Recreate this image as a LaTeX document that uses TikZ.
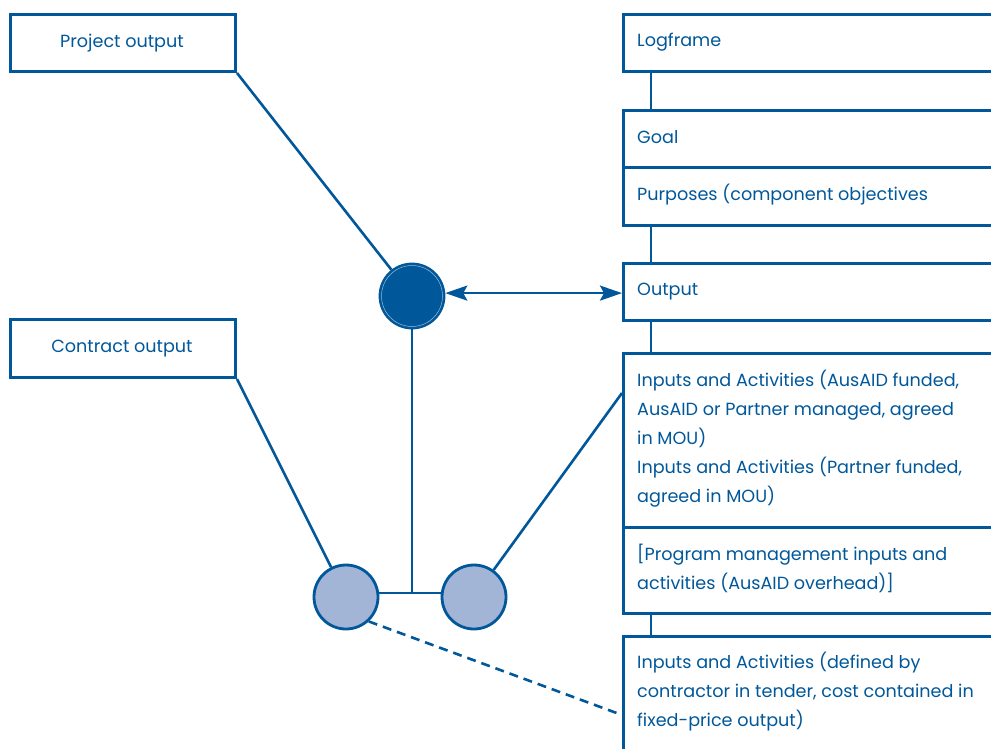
\documentclass[tikz,border=0pt]{standalone}
\usepackage{fontspec}
\setmainfont{Poppins}
\usetikzlibrary{arrows.meta}
\definecolor{dblue}{HTML}{00589A}
\definecolor{lblue}{HTML}{A3B5D7}
\tikzset{
  box/.style={draw=dblue, line width=3pt, rectangle, inner sep=0pt, anchor=north west},
  txt/.style={text=dblue, anchor=base west, inner sep=0pt, font=\fontsize{17.6}{29}\selectfont, align=left},
  ctxt/.style={text=dblue, anchor=base, inner sep=0pt, font=\fontsize{17.6}{29}\selectfont},
  conn/.style={draw=dblue, line width=2.6pt},
  dot/.style={circle, draw=dblue, line width=2.8pt, minimum size=64pt, inner sep=0pt},
}
\begin{document}
\begin{tikzpicture}[x=1pt,y=-1pt]
\clip (0,0) rectangle (991,748);
\fill[white] (0,0) rectangle (991,748);
% left boxes
\node[box, minimum width=225pt, minimum height=57pt] (po) at (9,13) {};
\node[ctxt] at (122,47) {Project output};
\node[box, minimum width=225pt, minimum height=58pt] (co) at (9,318) {};
\node[ctxt] at (122,352) {Contract output};
% right boxes
\node[box, minimum width=380pt, minimum height=57pt] (lf) at (622,13) {};
\node[txt] at (637,46) {Logframe};
\node[box, minimum width=380pt, minimum height=57pt] (goal) at (622,109) {};
\node[txt] at (637,143) {Goal};
\node[box, minimum width=380pt, minimum height=58pt] (purp) at (622,166) {};
\node[txt] at (637,200) {Purposes (component objectives};
\node[box, minimum width=380pt, minimum height=57pt] (out) at (622,262) {};
\node[txt] at (637,295) {Output};
\node[box, minimum width=380pt, minimum height=174pt] (inp) at (622,352) {};
\node[txt] at (637,502) {Inputs and Activities (AusAID funded,\\AusAID or Partner managed, agreed\\in MOU)\\Inputs and Activities (Partner funded,\\agreed in MOU)};
\node[box, minimum width=380pt, minimum height=86pt] (prog) at (622,526) {};
\node[txt] at (637,589) {[Program management inputs and\\activities (AusAID overhead)]};
\node[box, minimum width=380pt, minimum height=130pt] (last) at (622,635) {};
\node[txt] at (637,726) {Inputs and Activities (defined by\\contractor in tender, cost contained in\\fixed-price output)};
% vertical connectors between right boxes
\draw[conn] ([xshift=29pt]lf.south west) -- ([xshift=29pt]goal.north west);
\draw[conn] ([xshift=29pt]purp.south west) -- ([xshift=29pt]out.north west);
\draw[conn] ([xshift=29pt]out.south west) -- ([xshift=29pt]inp.north west);
\draw[conn] ([xshift=29pt]prog.south west) -- ([xshift=29pt]last.north west);
% circles
\node[dot, fill=dblue] (dk) at (412,296) {};
\draw[white!60!dblue, line width=0.5pt] (dk.center) circle (30.5pt);
\node[dot, fill=lblue] (lc) at (346,597) {};
\node[dot, fill=lblue] (rc) at (474,597) {};
\coordinate (join) at (412,593);
\coordinate (inpin) at (622,393);
\coordinate (lastin) at (622,715);
% connectors
\draw[conn] (po.south east) -- (dk);
\draw[conn] (co.south east) -- (lc);
\draw[conn] (rc) -- (inpin);
\draw[conn] (dk.south) -- (join);
\draw[conn] (lc.east |- join) -- (rc.west |- join);
\draw[conn, dashed, dash pattern=on 9pt off 6pt] (lc.-47) -- (lastin);
\draw[conn, {Stealth[length=22pt,width=15pt,inset=4pt]}-{Stealth[length=22pt,width=15pt,inset=4pt]}] (dk.5) -- (dk.5 -| out.west);
\end{tikzpicture}
\end{document}
